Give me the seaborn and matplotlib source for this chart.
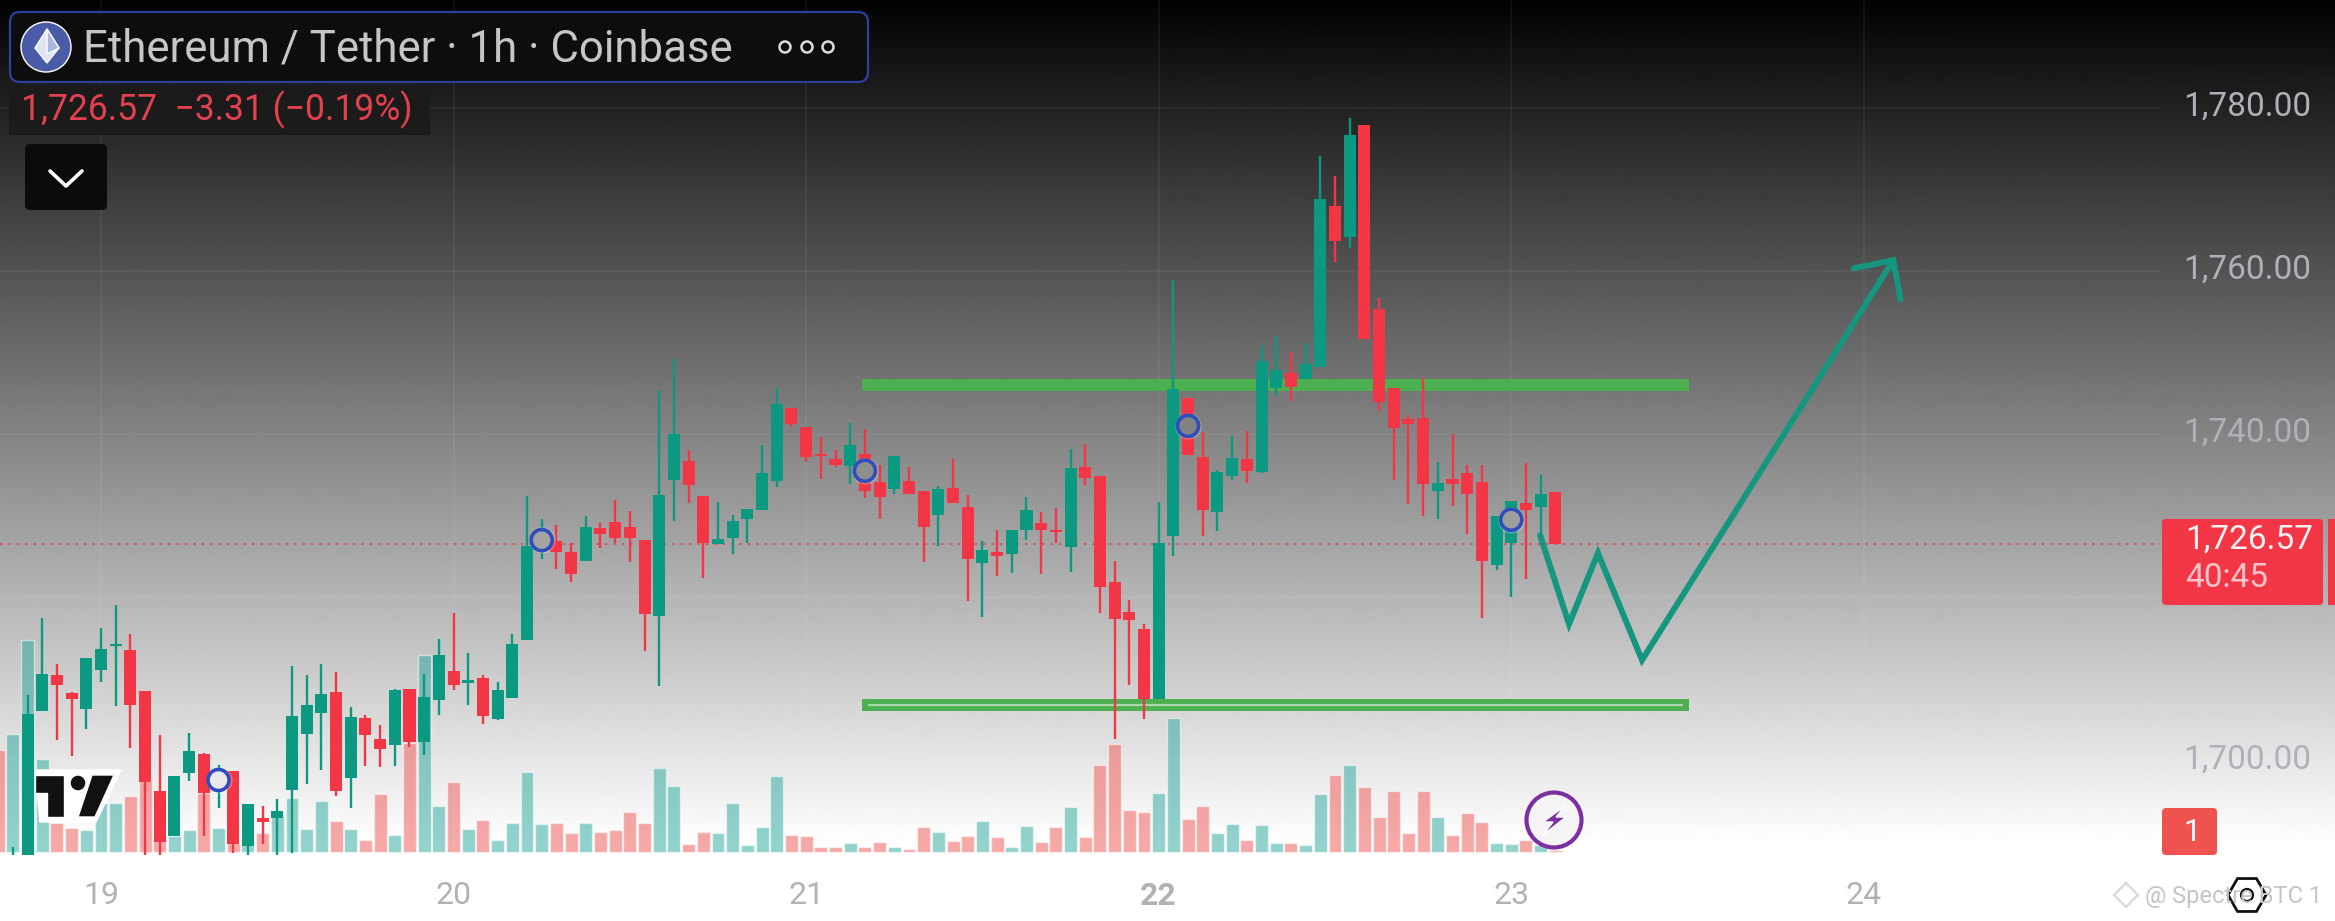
import numpy as np
import pandas as pd
import matplotlib
matplotlib.use('Agg')
import matplotlib.pyplot as plt
import matplotlib.patches as mpatches
from matplotlib.transforms import ScaledTranslation
import seaborn as sns

# hourly candles, hour 0 = start of the 19th
first_hour = -6
opens = [1687.0, 1686.0, 1706.0, 1710.5, 1708.3, 1706.3, 1711.1, 1714.0, 1713.5, 1708.5,
         1696.2, 1690.7, 1698.5, 1700.8, 1697.2, 1698.7, 1689.5, 1692.9, 1693.0, 1696.4,
         1703.2, 1705.8, 1708.4, 1697.8, 1705.2, 1702.6, 1701.9, 1708.8, 1702.2, 1707.4,
         1710.9, 1709.5, 1710.1, 1705.1, 1707.7, 1714.8, 1726.8, 1726.9, 1725.6, 1724.5,
         1728.5, 1729.2, 1728.6, 1727.0, 1717.7, 1734.4, 1736.7, 1732.4, 1726.5, 1727.2,
         1729.6, 1730.7, 1734.2, 1743.2, 1740.9, 1737.6, 1737.0, 1736.1, 1737.5, 1734.1,
         1733.3, 1734.2, 1733.05, 1730.1, 1733.4, 1731.0, 1724.2, 1725.6, 1725.3, 1728.2,
         1729.1, 1728.2, 1726.1, 1735.9, 1734.8, 1721.9, 1718.2, 1716.1, 1707.5, 1727.5,
         1744.4, 1737.2, 1730.5, 1734.8, 1737.0, 1735.4, 1745.7, 1747.5, 1746.7, 1748.2,
         1767.9, 1764.2, 1777.9, 1755.3, 1745.6, 1741.9, 1742.0, 1733.0, 1734.5, 1735.2,
         1734.1, 1724.0, 1726.7, 1731.6, 1731.0, 1732.9]
highs = [1689.4, 1708.0, 1717.4, 1711.8, 1708.4, 1712.5, 1716.2, 1719.0, 1715.5, 1708.5,
         1703.1, 1698.1, 1703.4, 1700.9, 1699.4, 1698.7, 1694.7, 1694.4, 1695.3, 1711.6,
         1710.5, 1711.8, 1710.8, 1706.6, 1705.6, 1704.3, 1708.8, 1708.8, 1710.6, 1714.9,
         1718.1, 1713.2, 1710.5, 1709.6, 1715.5, 1732.4, 1729.6, 1728.9, 1726.6, 1730.0,
         1729.1, 1731.9, 1730.6, 1727.0, 1745.4, 1749.2, 1738.0, 1732.4, 1731.7, 1730.1,
         1730.8, 1738.7, 1745.7, 1743.2, 1740.9, 1739.6, 1738.0, 1741.3, 1740.6, 1736.2,
         1737.3, 1735.9, 1733.05, 1733.6, 1737.0, 1732.5, 1726.9, 1728.2, 1728.2, 1732.3,
         1730.4, 1730.9, 1738.2, 1738.75, 1734.8, 1724.4, 1719.7, 1716.7, 1731.7, 1758.9,
         1744.4, 1740.3, 1735.6, 1739.7, 1740.4, 1750.9, 1752.0, 1750.0, 1751.2, 1774.1,
         1771.6, 1778.7, 1777.9, 1756.7, 1745.6, 1742.3, 1746.9, 1736.6, 1740.0, 1736.2,
         1736.2, 1730.0, 1731.8, 1736.4, 1735.0, 1732.9]
lows = [1686.0, 1685.0, 1706.0, 1702.5, 1700.5, 1703.8, 1709.6, 1706.7, 1701.5, 1688.4,
        1688.4, 1690.7, 1697.5, 1690.7, 1694.2, 1688.7, 1688.4, 1689.8, 1688.4, 1688.6,
        1697.1, 1698.8, 1695.7, 1694.2, 1699.3, 1699.2, 1699.3, 1701.7, 1700.7, 1705.6,
        1708.6, 1706.8, 1704.5, 1705.0, 1707.7, 1714.8, 1724.7, 1723.5, 1721.9, 1724.5,
        1726.0, 1726.6, 1724.3, 1713.4, 1709.1, 1729.3, 1731.5, 1722.3, 1726.5, 1725.3,
        1726.6, 1730.7, 1733.5, 1740.85, 1736.6, 1734.5, 1735.9, 1733.9, 1732.2, 1729.6,
        1732.7, 1732.7, 1724.3, 1726.3, 1731.6, 1719.5, 1717.6, 1722.6, 1723.0, 1727.0,
        1722.9, 1726.6, 1723.1, 1733.8, 1718.1, 1702.6, 1709.2, 1705.1, 1707.5, 1725.1,
        1737.4, 1727.5, 1728.1, 1734.4, 1734.0, 1735.2, 1744.7, 1744.1, 1746.7, 1748.2,
        1761.1, 1762.8, 1751.6, 1742.8, 1734.4, 1731.4, 1730.0, 1729.6, 1731.2, 1727.8,
        1717.5, 1723.3, 1720.0, 1722.2, 1727.5, 1726.57]
closes = [1688.2, 1705.7, 1710.6, 1709.2, 1707.5, 1712.5, 1713.7, 1714.3, 1706.8, 1697.4,
          1690.0, 1698.1, 1701.1, 1696.0, 1697.6, 1689.7, 1694.7, 1692.4, 1693.8, 1705.4,
          1706.8, 1708.2, 1696.2, 1705.3, 1703.1, 1701.4, 1708.6, 1702.2, 1707.8, 1712.9,
          1709.2, 1709.8, 1705.4, 1708.6, 1714.3, 1726.3, 1727.4, 1725.6, 1722.9, 1728.6,
          1727.8, 1727.2, 1727.3, 1717.9, 1732.5, 1740.0, 1733.8, 1726.7, 1727.1, 1729.3,
          1730.8, 1735.2, 1743.7, 1741.2, 1737.2, 1737.3, 1736.25, 1738.7, 1733.0, 1732.3,
          1737.3, 1732.7, 1728.6, 1733.3, 1731.6, 1724.7, 1725.8, 1725.1, 1728.2, 1730.7,
          1728.2, 1728.0, 1735.8, 1734.6, 1721.2, 1717.3, 1717.2, 1707.5, 1726.7, 1745.5,
          1737.4, 1730.7, 1735.4, 1737.1, 1735.5, 1749.0, 1747.9, 1745.8, 1748.6, 1768.8,
          1763.7, 1776.6, 1751.6, 1743.9, 1740.8, 1741.2, 1733.9, 1734.0, 1733.9, 1732.6,
          1724.5, 1730.0, 1731.8, 1730.7, 1732.6, 1726.57]
# volume has one more bar on the left edge than there are candles
volume = [102, 118, 212, 93, 29, 24, 22, 49, 49, 56,
          71, 13, 16, 22, 59, 24, 9, 7, 19, 36,
          54, 23, 51, 31, 23, 12, 58, 17, 109, 197,
          46, 70, 23, 32, 12, 29, 80, 28, 29, 19,
          29, 20, 22, 40, 29, 84, 66, 8, 20, 19,
          49, 7.5, 25, 76, 17.5, 16, 5, 5, 9, 5,
          10, 5, 3.5, 25, 20, 11, 16, 31, 15, 5,
          26, 10, 25, 45, 15, 87, 108, 42, 40, 59,
          134, 33, 46, 19, 28, 12, 27, 9, 9, 7,
          58, 77, 87, 65, 35, 61, 19, 61, 35, 17,
          39, 30, 9, 8, 12, 7, 2]

last_price = 1726.57
day_ticks = [0, 24, 48, 72, 96, 120]
day_labels = ['19', '20', '21', '22', '23', '24']
price_ticks = [1700, 1740, 1760, 1780]
price_labels = ['1,700.00', '1,740.00', '1,760.00', '1,780.00']
grid_prices = [1700, 1720, 1740, 1760, 1780]
level_prices = [1746.0, 1706.8]
level_hours = [51.8, 108.1]
path_hours = [97.96, 99.93, 101.9, 104.9, 122.0]
path_prices = [1727.6, 1716.7, 1725.4, 1712.3, 1761.3]
head_hours = [119.3, 122.0, 122.5]
head_prices = [1760.3, 1761.3, 1756.5]
note_hours = [8, 30, 52, 74, 96]
note_prices = [1697.6, 1727.0, 1735.5, 1741.0, 1729.5]

GREEN = '#0b9981'
RED = '#f23645'

sns.set_theme(style='white')
plt.rcParams['font.family'] = ['Roboto', 'DejaVu Sans']

hours = np.arange(first_hour, first_hour + len(opens))
candles = pd.DataFrame({'hour': hours, 'open': opens, 'high': highs, 'low': lows, 'close': closes})
candles['up'] = candles['close'] >= candles['open']
bars = pd.DataFrame({'hour': np.arange(first_hour - 1, first_hour - 1 + len(volume)),
                     'volume': volume,
                     'side': ['down'] + ['up' if u else 'down' for u in candles['up']]})

W, H = 2335, 921
fig = plt.figure(figsize=(W / 100, H / 100), dpi=100)

# backdrop: black at the top fading to white where the chart ends
ax_bg = fig.add_axes([0, 0, 1, 1], zorder=0)
shade = np.clip((np.arange(H) + 6) / 850, 0, 1).reshape(-1, 1)
ax_bg.imshow(shade, cmap='gray', vmin=0, vmax=1, aspect='auto')
ax_bg.axis('off')

chart_rect = [0, 1 - 855 / H, 2160 / W, 855 / H]
xlim = (-6.875, 140.16)

# volume
ax_vol = fig.add_axes(chart_rect, zorder=1)
ax_vol.patch.set_visible(False)
sns.barplot(data=bars, x='hour', y='volume', hue='side', hue_order=['up', 'down'],
            palette={'up': '#26a69a', 'down': '#ef5350'}, native_scale=True, dodge=False,
            width=0.88, saturation=1, alpha=0.5, legend=False, ax=ax_vol)
ax_vol.set_xlim(xlim)
ax_vol.set_ylim(-3, 852)
ax_vol.axis('off')

# price
ax = fig.add_axes(chart_rect, zorder=2)
ax.patch.set_visible(False)
ax.vlines(day_ticks, 1688.4, 1794, color='white', alpha=0.06, lw=1.2, zorder=1)
ax.hlines(grid_prices, xlim[0], xlim[1], color='white', alpha=0.05, lw=1.2, zorder=1)
ax.axhline(last_price, color=RED, lw=1.1, ls=(0, (1.5, 4)), zorder=1.5)

# support / resistance boxes
ax.hlines(level_prices, level_hours[0], level_hours[1], color='#4caf50', lw=8.6, zorder=2)
ax.hlines(level_prices[1], level_hours[0] + 0.4, level_hours[1] - 0.4, color='#a9d8aa', lw=1.6, zorder=2.1)

colors = np.where(candles['up'], GREEN, RED)
ax.vlines(candles['hour'], candles['low'], candles['high'], colors=colors, lw=1.7, zorder=3)
body = (candles['close'] - candles['open']).abs().clip(lower=0.25)
ax.bar(candles['hour'], body, bottom=candles[['open', 'close']].min(axis=1),
       width=0.82, color=colors, lw=0, zorder=3.1)

# hand drawn projection
sns.lineplot(x=path_hours, y=path_prices, sort=False, estimator=None, color='#15967f', lw=4.3,
             solid_joinstyle='miter', ax=ax, zorder=4)
sns.lineplot(x=head_hours, y=head_prices, sort=False, estimator=None, color='#15967f', lw=4.3,
             solid_joinstyle='miter', ax=ax, zorder=4)

# event markers: blue rings with a pale halo, filled with the local background
note_faces = ['#eaeaea', '#a4a4a4', '#8e8e8e', '#828282', '#9e9e9e']
sns.scatterplot(x=note_hours, y=note_prices, s=360, color='white', alpha=0.25, lw=0, ax=ax, zorder=4.5)
ax.scatter(note_hours, note_prices, s=230, facecolors=note_faces, edgecolors='#2f4ebd', lw=2.6, zorder=5)

ax.set_xlim(xlim)
ax.set_ylim(1688.41, 1793.19)
ax.set_xticks(day_ticks, day_labels)
ax.set_yticks(price_ticks, price_labels)
ax.yaxis.tick_right()
ax.tick_params(axis='x', length=0, pad=19, labelsize=23, labelcolor='#b2b2b4')
ax.tick_params(axis='y', length=0, pad=17, labelsize=24, labelcolor='#b0b1b8')
ax.get_xticklabels()[3].set_fontweight('bold')
# the price labels sit a little above their grid lines
for label in ax.get_yticklabels():
    label.set_transform(label.get_transform() + ScaledTranslation(0, 0.045, fig.dpi_scale_trans))
ax.set_xlabel('')
ax.set_ylabel('')
sns.despine(ax=ax, left=True, right=True, top=True, bottom=True)

# interface overlay, in picture pixels
ui = fig.add_axes([0, 0, 1, 1], zorder=3)
ui.set_xlim(0, W)
ui.set_ylim(H, 0)
ui.axis('off')


def rbox(x0, y0, x1, y1, face, edge='none', lw=0, r=6):
    ui.add_patch(mpatches.FancyBboxPatch((x0 + r, y0 + r), x1 - x0 - 2 * r, y1 - y0 - 2 * r,
                                         boxstyle=f'round,pad={r},rounding_size={r}',
                                         fc=face, ec=edge, lw=lw))


rbox(10, 12, 868, 82, '#0d0d0d', '#2c419f', 1.6, r=10)
ui.add_patch(mpatches.Circle((46, 47), 25, fc='#4a5ca8'))
ui.add_patch(mpatches.Polygon([(47, 29), (59, 48), (47, 63), (35, 48)], fc='#dfe4f5'))
ui.add_patch(mpatches.Polygon([(47, 29), (59, 48), (47, 54)], fc='#aab5e0'))
ui.text(83, 49, 'Ethereum / Tether · 1h · Coinbase', fontsize=31.5, color='#c6c6c6', va='center', ha='left')
for cx in (785, 807, 828):
    ui.add_patch(mpatches.Circle((cx, 47), 5.5, fc='none', ec='#dcdcdc', lw=1.8))

ui.add_patch(mpatches.Rectangle((9, 85), 421, 50, fc='#1b1b1b', ec='none'))
ui.text(21, 110, '1,726.57  −3.31 (−0.19%)', fontsize=25.6, color='#e5404e', va='center', ha='left')

rbox(25, 144, 107, 210, '#0b0b0b', r=5)
ui.plot([50, 66, 82], [171, 186, 171], color='white', lw=2.6)

# price tag and pane badge
rbox(2162, 519, 2323, 605, RED, r=4)
ui.add_patch(mpatches.Rectangle((2328, 519), 8, 86, fc=RED, ec='none'))
ui.text(2185, 540, '1,726.57', fontsize=24, color='#fff2f3', va='center', ha='left')
ui.text(2185, 578, '40:45', fontsize=24, color='#ffc4c9', va='center', ha='left')
rbox(2162, 808, 2217, 855, '#ef5350', r=4)
ui.text(2192, 832, '1', fontsize=22, color='white', va='center', ha='center')

# TradingView mark
ui.add_patch(mpatches.Polygon([(35, 770), (121, 770), (96, 822), (40, 822)], fc='white'))
ui.add_patch(mpatches.Polygon([(35, 775), (64, 775), (64, 817), (47, 817), (47, 793), (35, 793)], fc='#111111'))
ui.add_patch(mpatches.Circle((78, 783), 8, fc='#111111'))
ui.add_patch(mpatches.Polygon([(92, 775), (114, 775), (95, 817), (78, 817)], fc='#111111'))

# lightning badge
ui.add_patch(mpatches.Ellipse((1554, 820), 55, 55, fc='#f6f3f7', ec='#7b2fa0', lw=3))
ui.add_patch(mpatches.Polygon([(1565, 806), (1543, 822), (1553, 822), (1543, 835), (1566, 817), (1556, 817)], fc='#7b2fa0'))

# watermark
ui.text(2145, 896, '@ Spectre BTC 1', fontsize=17, color='#c4c4c4', va='center', ha='left')
ui.add_patch(mpatches.Polygon([(2126, 883), (2138, 895), (2126, 907), (2114, 895)], fc='none', ec='#d6d6d6', lw=1.5))
ui.add_patch(mpatches.RegularPolygon((2247, 895), 6, radius=19, orientation=np.pi / 6, fc='none', ec='#111111', lw=2))
ui.add_patch(mpatches.Circle((2247, 895), 6, fc='none', ec='#111111', lw=1.6))

fig.savefig('out.png', dpi=100)
